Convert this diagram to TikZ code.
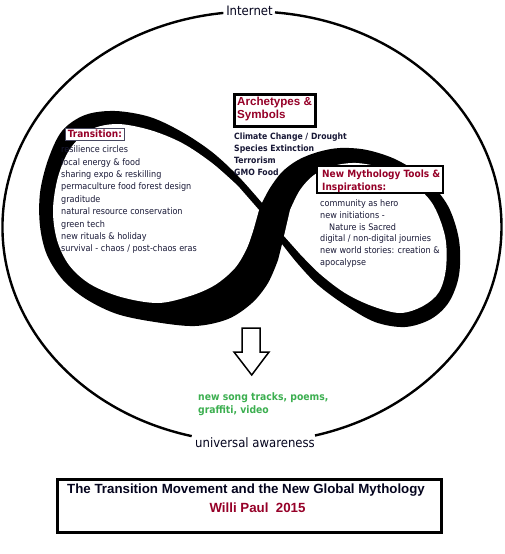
\documentclass[tikz,border=0pt]{standalone}
\usepackage{fontspec}
\IfFontExistsTF{DejaVu Sans Condensed}{\newfontfamily\tah{DejaVu Sans Condensed}}{\newfontfamily\tah[FakeStretch=0.9]{DejaVu Sans}}
\newfontfamily\ari{Liberation Sans}
\definecolor{dred}{RGB}{150,0,40}
\definecolor{ink}{RGB}{25,25,55}
\definecolor{sgreen}{RGB}{60,175,80}
\definecolor{navy}{RGB}{5,5,30}
\begin{document}
\begin{tikzpicture}[x=1pt,y=-1pt,
  item/.style={anchor=base west, inner sep=0pt, font=\tah\fontsize{9}{11}\selectfont, text=ink},
  bitem/.style={item, font=\tah\bfseries\fontsize{8.6}{11}\selectfont},
  head/.style={anchor=base west, inner sep=0pt, font=\tah\bfseries\fontsize{10}{12}\selectfont, text=dred},
  ahead/.style={anchor=base west, inner sep=0pt, font=\ari\bfseries\fontsize{11.6}{13}\selectfont, text=dred},
  frame/.style={draw=black, fill=white, inner sep=0pt, outer sep=0pt},
  ring/.style={line width=2.4pt},
  lbl/.style={anchor=base, inner sep=0pt, font=\tah\fontsize{13}{15}\selectfont, text=navy}]
\useasboundingbox (0,0) rectangle (504,554);
\fill[white] (0,0) rectangle (504,554);

% outer ellipse with gaps for labels
\draw[ring] (252,227) ++(-84.71:249.5 and 215.5) arc[start angle=-84.71, end angle=75.37, x radius=249.5, y radius=215.5];
\draw[ring] (252,227) ++(103.99:249.5 and 215.5) arc[start angle=103.99, end angle=263.40, x radius=249.5, y radius=215.5];
\node[lbl] (inet) at (249.5,15.5) {Internet};
\node[lbl] (aware) at (255,447) {universal awareness};

% infinity ribbon: outer teardrops in black, then inner teardrops in white
\fill[black] (284,236) -- plot[smooth, tension=0.55] coordinates {(262,203) (238,176) (212,152) (182,132) (150,117) (115,111) (85,115) (62,131) (48,160) (40,193) (40,226) (47,255) (63,280) (86,299) (117,314) (155,322) (195,326) (228,319) (252,303) (268,283) (278,260)} -- cycle;
\fill[black] (259,210) -- plot[smooth, tension=0.55] coordinates {(262,203) (270,188) (282,172) (298,160) (318,152) (340,148) (367,150) (397,160) (426,179) (448,206) (459,240) (459,275) (449,302) (431,319) (405,327) (375,322) (345,305) (318,285) (298,264) (282,244)} -- cycle;
\fill[white] (259,210) -- plot[smooth, tension=0.55] coordinates {(238,186) (212,163) (182,143) (150,130) (117,124) (90,130) (70,149) (58,177) (53,210) (57,240) (69,265) (90,284) (121,297) (158,303) (190,296) (215,285) (235,268) (247,248) (254,228)} -- cycle;
\fill[white] (284,236) -- plot[smooth, tension=0.55] coordinates {(290,210) (300,190) (314,175) (333,166) (356,163) (382,168) (409,181) (432,203) (445,236) (446,268) (439,292) (423,306) (400,313) (372,306) (345,293) (320,274) (300,254)} -- cycle;

% Transition
\node[head, draw=ink!80, line width=0.8pt, fill=white, inner xsep=3pt, inner ysep=1.5pt, text depth=2pt] (trans) at (64.5,137.3) {Transition:};
\foreach \t [count=\i from 0] in {resilience circles, local energy \& food, sharing expo \& reskilling, permaculture food forest design, graditude, natural resource conservation, green tech, new rituals \& holiday, survival - chaos / post-chaos eras}
  \node[item] (L\i) at (61,{152.7+12.4*\i}) {\t};

% Archetypes
\node[frame, line width=3pt, minimum width=80.5pt, minimum height=32pt] (arch) at (274.75,110.5) {};
\node[ahead] (arch1) at (237,105.7) {Archetypes \&};
\node[ahead] (arch2) at (237,118.3) {Symbols};
\foreach \t [count=\i from 0] in {Climate Change / Drought, Species Extinction, Terrorism, GMO Food}
  \node[bitem] (A\i) at (234,{139.5+12*\i}) {\t};

% New Mythology
\node[frame, line width=2pt, minimum width=126pt, minimum height=26.5pt] (myth) at (380,179.25) {};
\node[head] (myth1) at (322,177.3) {New Mythology Tools \&};
\node[head] (myth2) at (322,190.7) {Inspirations:};
\node[item] (M0) at (320,206.7) {community as hero};
\node[item] (M1) at (320,218.3) {new initiations -};
\node[item] (M2) at (329,230) {Nature is Sacred};
\node[item] (M3) at (320,241.7) {digital / non-digital journies};
\node[item] (M4) at (320,253.3) {new world stories: creation \&};
\node[item] (M5) at (320,265) {apocalypse};

% hollow arrow
\draw[line width=1.5pt, fill=white, line join=miter] (242,328) -- (260,328) -- (260,352) -- (269,352) -- (251.7,375) -- (234,352) -- (242,352) -- cycle;

% green output
\node[head, text=sgreen, font=\tah\bfseries\fontsize{10.3}{12}\selectfont] (g1) at (198,400) {new song tracks, poems,};
\node[head, text=sgreen, font=\tah\bfseries\fontsize{10.3}{12}\selectfont] (g2) at (198,413.3) {graffiti, video};

% title box
\node[frame, line width=3pt, minimum width=384pt, minimum height=52.5pt] (tbox) at (249.5,505.75) {};
\node[anchor=base west, inner sep=0pt, font=\ari\bfseries\fontsize{13.3}{15}\selectfont, text=navy] (title) at (67,493) {The Transition Movement and the New Global Mythology};
\node[anchor=base, inner sep=0pt, font=\ari\bfseries\fontsize{13.3}{15}\selectfont, text=dred] (author) at (257.5,512) {Willi Paul\ \ 2015};
\end{tikzpicture}
\end{document}
